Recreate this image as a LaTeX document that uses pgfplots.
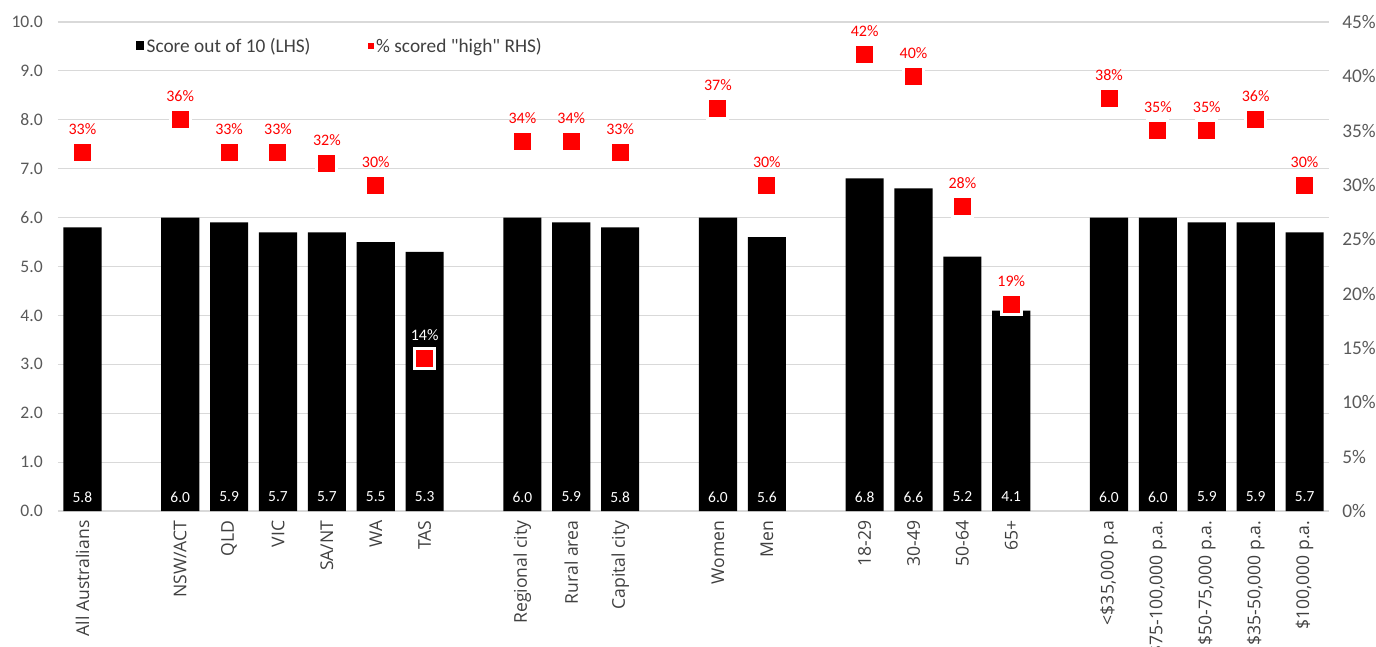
\documentclass[border=0pt]{standalone}
\usepackage{pgfplots}
\pgfplotsset{compat=1.18}
\usepackage{pgfplotstable}
\usepackage{fontspec}
\setmainfont{Carlito}
\newfontfamily\catfont{Open Sans}

\definecolor{scorered}{RGB}{255,0,0}
\definecolor{gridgray}{RGB}{217,217,217}
\definecolor{ticktext}{RGB}{89,89,89}
\definecolor{cattext}{RGB}{64,64,64}

\newcommand\tickfont{\fontsize{13.2pt}{15pt}\selectfont}
\newcommand\rtickfont{\fontsize{14.5pt}{16pt}\selectfont}
\newcommand\legfont{\fontsize{14.5pt}{16pt}\selectfont}
\newcommand\catlabfont{\catfont\fontsize{13.2pt}{16pt}\selectfont}
\newcommand\barlabfont{\fontsize{11.6pt}{13pt}\selectfont}
\newcommand\pctlabfont{\fontsize{12pt}{14pt}\selectfont}

% x = slot on the category axis (gaps separate the groups)
% score = mean score out of 10, pct = share that scored "high"
\pgfplotstableread{
x  score pct
0  5.8 33
2  6.0 36
3  5.9 33
4  5.7 33
5  5.7 32
6  5.5 30
7  5.3 14
9  6.0 34
10 5.9 34
11 5.8 33
13 6.0 37
14 5.6 30
16 6.8 42
17 6.6 40
18 5.2 28
19 4.1 19
21 6.0 38
22 6.0 35
23 5.9 35
24 5.9 36
25 5.7 30
}\survey

\begin{document}
\begin{tikzpicture}
\path[use as bounding box, clip] (-43.5pt,-101.25pt) rectangle (988.5pt,383.25pt);

% left axis: scores as bars
\begin{axis}[
  at={(0,0)}, anchor=south west,
  width=953.25pt, height=366.75pt, scale only axis,
  xmin=-0.5, xmax=25.5, ymin=0, ymax=10,
  axis line style={draw=none},
  major tick length=0pt,
  ytick={0,1,...,10},
  ymajorgrids, grid style={gridgray, line width=0.9pt},
  yticklabel={\pgfmathprintnumber[fixed,fixed zerofill,precision=1,assume math mode=true]{\tick}},
  yticklabel style={font=\tickfont, text=ticktext, anchor=east, xshift=-11.25pt, inner sep=0pt},
  xtick={0,2,3,4,5,6,7,9,10,11,13,14,16,17,18,19,21,22,23,24,25},
  xticklabels={All Australians, NSW/ACT, QLD, VIC, SA/NT, WA, TAS,
    Regional city, Rural area, Capital city, Women, Men,
    18-29, 30-49, 50-64, 65+,
    <\$35{,}000 p.a, \$75-100{,}000 p.a., \$50-75{,}000 p.a., \$35-50{,}000 p.a., \$100{,}000 p.a.},
  xticklabel style={rotate=90, anchor=east, font=\catlabfont, text=cattext,
    inner ysep=0pt, inner xsep=7pt},
  legend style={draw=none, fill=none, font=\legfont, text=cattext,
    at={(rel axis cs:0.058,0.951)}, anchor=west, legend columns=2,
    /tikz/every even column/.append style={column sep=41pt}},
  clip=false,
]
\addplot[ybar, bar width=0.78, fill=black, draw=none,
  legend image code/.code={\fill[black] (0pt,-3.4pt) rectangle (6pt,3.4pt);}]
  table[x=x, y=score]{\survey};
\addlegendentry{Score out of 10 (LHS)}
\addlegendimage{legend image code/.code={\fill[scorered] (2pt,-1.9pt) rectangle (5.8pt,1.9pt);}}
\addlegendentry{\% scored \textquotedbl high\textquotedbl\ RHS)}

% score values written at the foot of each bar
\addplot[only marks, mark=none, point meta=explicit,
  nodes near coords={\pgfmathprintnumber[fixed,fixed zerofill,precision=1,assume math mode=true]{\pgfplotspointmeta}},
  nodes near coords style={anchor=center, yshift=10.5pt, font=\barlabfont, text=white}]
  table[x=x, y expr=0, meta=score]{\survey};
\end{axis}

% right axis: share scoring "high" as squares
\begin{axis}[
  at={(0,0)}, anchor=south west,
  width=953.25pt, height=366.75pt, scale only axis,
  xmin=-0.5, xmax=25.5, ymin=0, ymax=45,
  hide x axis,
  axis y line*=right,
  axis line style={draw=none},
  major tick length=0pt,
  ytick={0,5,...,45},
  yticklabel={\pgfmathprintnumber[assume math mode=true]{\tick}\%},
  yticklabel style={font=\rtickfont, text=ticktext, anchor=west, xshift=9.75pt, inner sep=0pt},
  clip=false,
  unbounded coords=discard,
]
\addplot[only marks, mark=square*, mark size=7.5pt,
  mark options={fill=scorered, draw=white, line width=2.25pt},
  x filter/.expression={x==7 ? nan : x},
  point meta=explicit,
  nodes near coords={\pgfmathprintnumber[assume math mode=true]{\pgfplotspointmeta}\%},
  nodes near coords style={anchor=center, yshift=17.5pt, font=\pctlabfont, text=scorered}]
  table[x=x, y=pct, meta=pct]{\survey};
\addplot[only marks, mark=square*, mark size=7.5pt,
  mark options={fill=scorered, draw=white, line width=2.25pt},
  x filter/.expression={x==7 ? x : nan},
  point meta=explicit,
  nodes near coords={\pgfmathprintnumber[assume math mode=true]{\pgfplotspointmeta}\%},
  nodes near coords style={anchor=center, yshift=17.5pt, font=\pctlabfont, text=white}]
  table[x=x, y=pct, meta=pct]{\survey};
\end{axis}
\end{tikzpicture}
\end{document}
